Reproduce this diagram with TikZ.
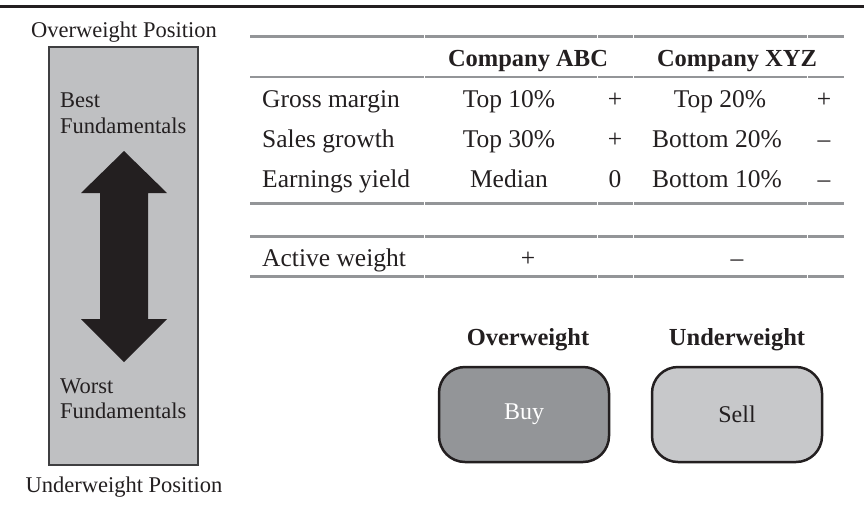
\documentclass[tikz,border=0pt]{standalone}
\usepackage{fontspec}
\setmainfont{Liberation Serif}
\definecolor{ink}{HTML}{231F20}
\definecolor{rulegray}{HTML}{939598}
\definecolor{panelgray}{HTML}{BFC0C2}
\definecolor{panelborder}{HTML}{3F3F41}
\definecolor{buyfill}{HTML}{939598}
\definecolor{sellfill}{HTML}{C7C8CA}
\newcommand\fsz{\fontsize{22.5}{26}\selectfont}
\newcommand\tsz{\fontsize{25.5}{29}\selectfont}
\newcommand\bsz{\fontsize{24.5}{28}\selectfont}
\begin{document}
\begin{tikzpicture}[x=1pt,y=-1pt,
  txt/.style={font=\fsz, text=ink, inner sep=0pt, anchor=base},
  lbl/.style={txt, anchor=base west},
  ttxt/.style={txt, font=\tsz},
  tlbl/.style={ttxt, anchor=base west},
  bld/.style={txt, font=\bsz\bfseries},
  thickrule/.style={draw=rulegray, line width=3pt},
  thinrule/.style={draw=rulegray, line width=1.8pt},
  gap/.style={draw=white, line width=0.8pt},
  panelbox/.style={draw=panelborder, fill=panelgray, line width=1.5pt, inner sep=0pt},
  actbox/.style={draw=ink, line width=2.5pt, rounded corners=26pt, inner sep=0pt,
                 minimum width=170pt, minimum height=95pt, font=\fontsize{24}{28}\selectfont},
  bigarrow/.style={fill=ink, draw=none}]
\useasboundingbox (0,0) rectangle (864,523);
% top rule
\draw[draw=ink, line width=3pt] (0,6) -- (864,6);

% left panel
\node[panelbox, minimum width=149pt, minimum height=418pt] (panel) at (123.5,256) {};
\node[txt] (ovp) at (124,37) {Overweight Position};
\node[txt] (unp) at (124,492) {Underweight Position};
\node[lbl] (best1) at (60,107) {Best};
\node[lbl] (best2) at (60,133) {Fundamentals};
\node[lbl] (worst1) at (60,393) {Worst};
\node[lbl] (worst2) at (60,418) {Fundamentals};
\fill[bigarrow] (124,151) -- (167,193) -- (148,193) -- (148,319) -- (167,319)
  -- (124,362) -- (81,319) -- (100,319) -- (100,193) -- (81,193) -- cycle;

% table rules
\draw[thickrule] (250,36) -- (844,36);
\draw[thinrule] (250,77) -- (844,77);
\draw[thickrule] (250,203) -- (844,203);
\draw[thickrule] (250,236) -- (844,236);
\draw[thickrule] (250,276) -- (844,276);
\foreach \gx in {424,597,633,807}{
  \foreach \gy in {36,77,203,236,276}{
    \draw[gap] (\gx,\gy-2) -- (\gx,\gy+2);
  }
}

% header
\node[bld] (hABC) at (528,66) {Company ABC};
\node[bld] (hXYZ) at (737,66) {Company XYZ};

% rows
\node[tlbl] (r1) at (262,107) {Gross margin};
\node[ttxt] (r1a) at (509,107) {Top 10\%};
\node[ttxt] (r1b) at (615,107) {+};
\node[ttxt] (r1c) at (720,107) {Top 20\%};
\node[ttxt] (r1d) at (824,107) {+};

\node[tlbl] (r2) at (262,147) {Sales growth};
\node[ttxt] (r2a) at (509,147) {Top 30\%};
\node[ttxt] (r2b) at (615,147) {+};
\node[ttxt] (r2c) at (717,147) {Bottom 20\%};
\node[ttxt] (r2d) at (824,147) {–};

\node[tlbl] (r3) at (262,187) {Earnings yield};
\node[ttxt] (r3a) at (509,187) {Median};
\node[ttxt] (r3b) at (615,187) {0};
\node[ttxt] (r3c) at (717,187) {Bottom 10\%};
\node[ttxt] (r3d) at (824,187) {–};

\node[tlbl] (aw) at (262,266) {Active weight};
\node[ttxt] (awa) at (528,266) {+};
\node[ttxt] (awb) at (737,266) {–};

% decisions
\node[bld] (ow) at (528,345) {Overweight};
\node[bld] (uw) at (737,345) {Underweight};
\node[actbox, fill=buyfill, text=white] (buy) at (524,414.5) {Buy};
\node[actbox, fill=sellfill, text=ink] (sell) at (737,414.5) {Sell};
\end{tikzpicture}
\end{document}
